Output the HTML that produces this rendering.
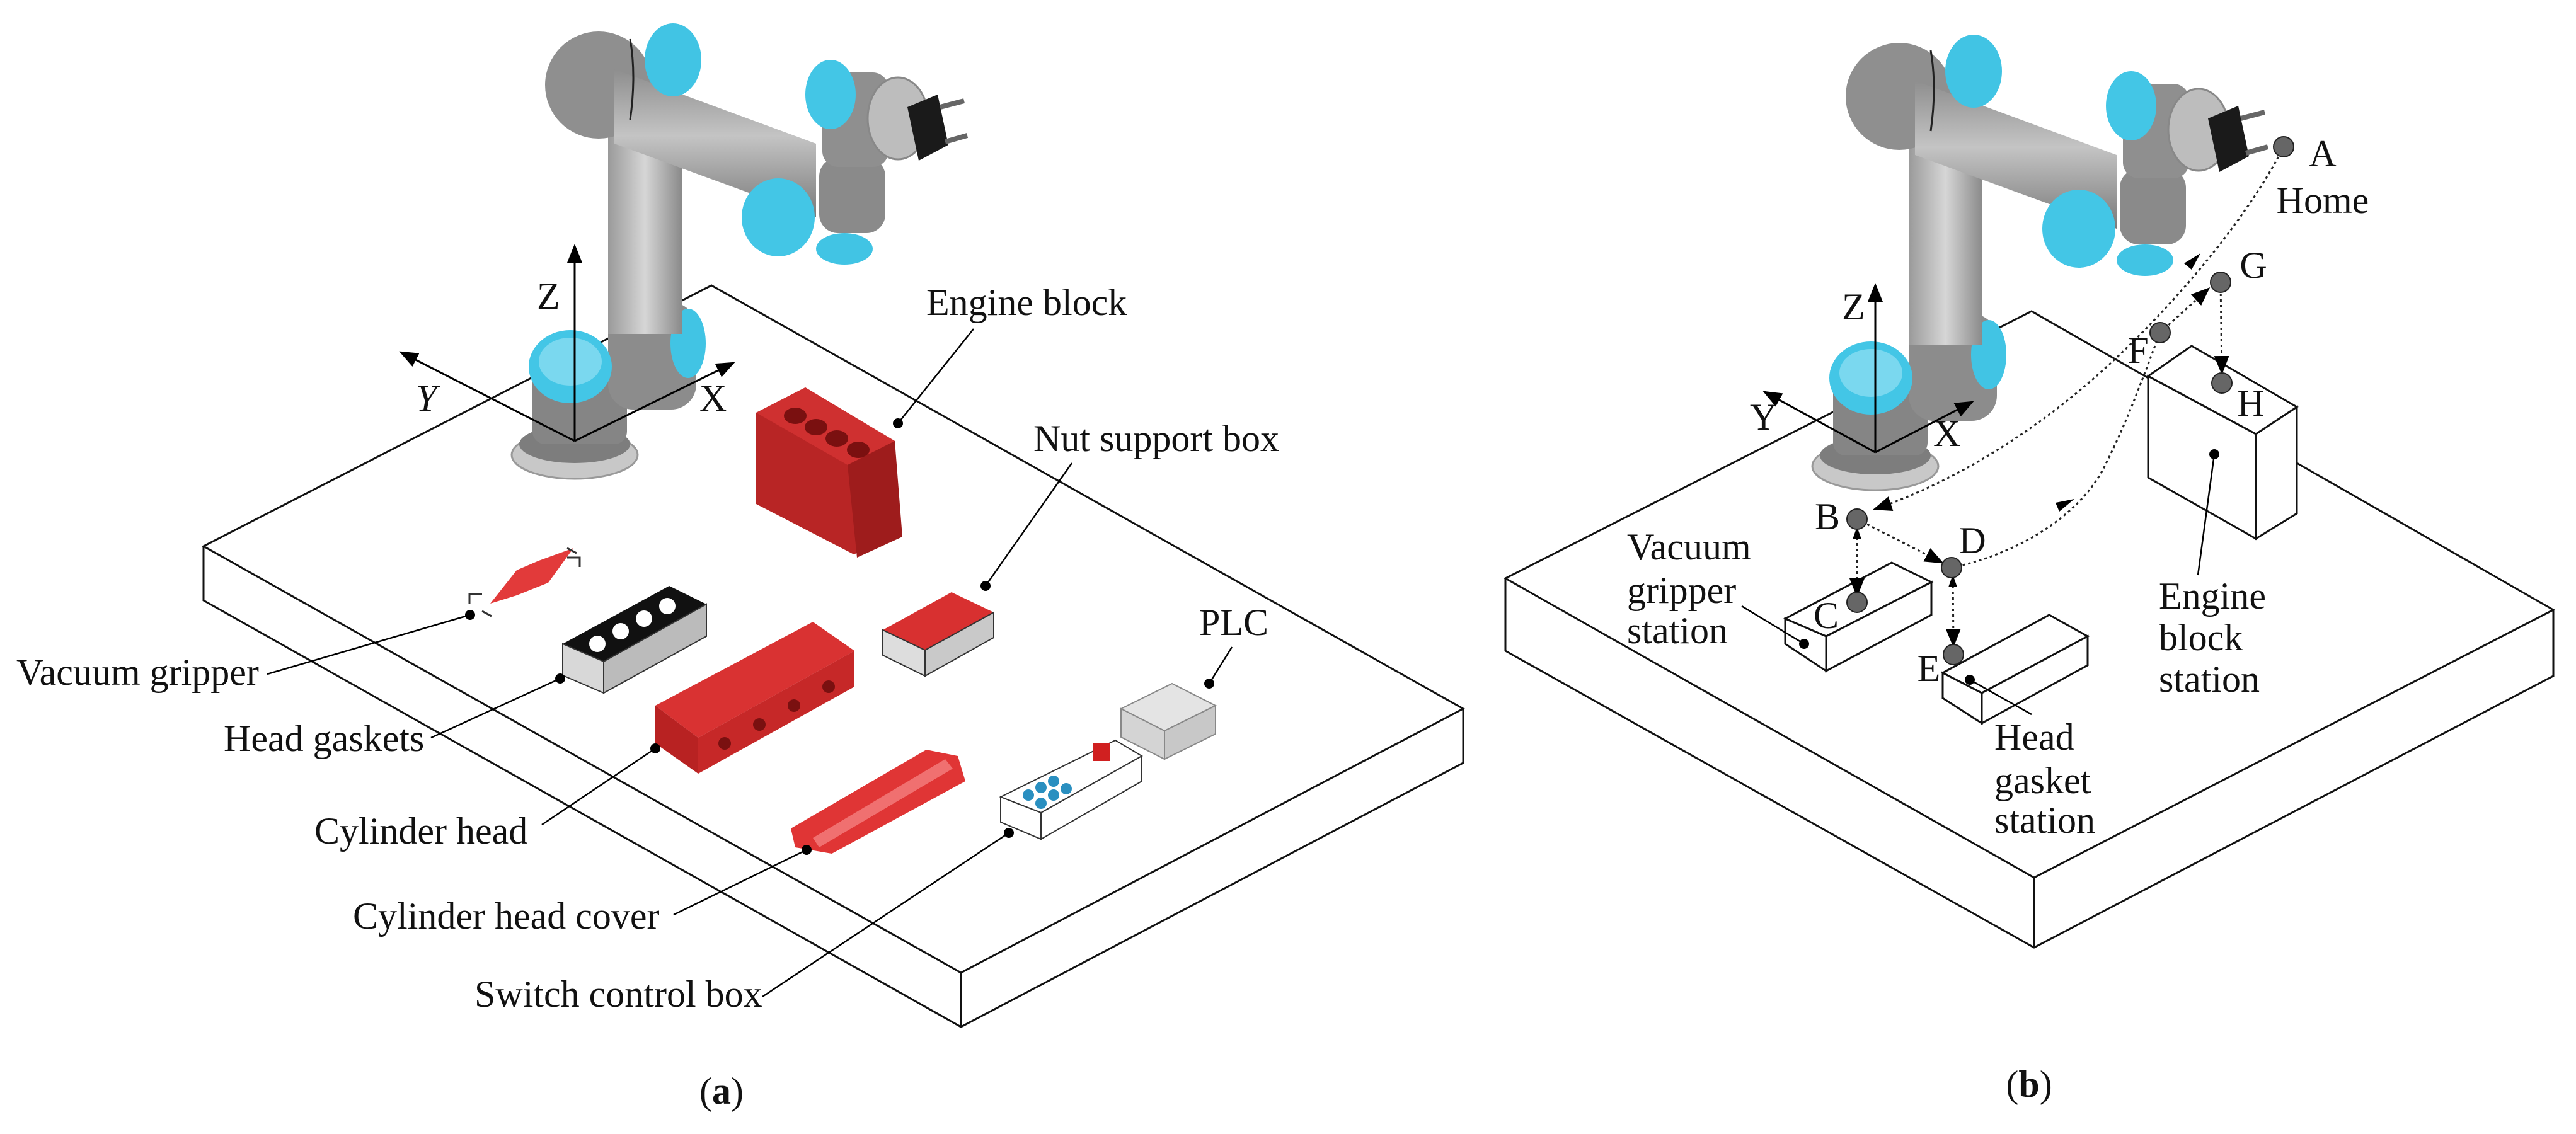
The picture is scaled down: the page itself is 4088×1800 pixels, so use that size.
<!DOCTYPE html>
<html><head><meta charset="utf-8"><style>
html,body{margin:0;padding:0;background:#fff;}
svg{display:block;}
text{font-family:"Liberation Serif",serif;font-size:60px;fill:#111;}
</style></head><body>
<svg width="4088" height="1800" viewBox="0 0 4088 1800" xmlns="http://www.w3.org/2000/svg">
<defs>
<marker id="ah" markerWidth="10" markerHeight="8" refX="9" refY="4" orient="auto" markerUnits="strokeWidth"><path d="M0,0 L10,4 L0,8 z" fill="#000"/></marker>
<linearGradient id="gcol" x1="0" x2="1"><stop offset="0" stop-color="#9a9a9a"/><stop offset="0.5" stop-color="#d6d6d6"/><stop offset="1" stop-color="#8a8a8a"/></linearGradient>
<linearGradient id="garm" x1="0" y1="0" x2="0" y2="1"><stop offset="0" stop-color="#8e8e8e"/><stop offset="0.45" stop-color="#c4c4c4"/><stop offset="1" stop-color="#7a7a7a"/></linearGradient>
<g id="robot">
  <ellipse cx="912" cy="722" rx="100" ry="38" fill="#c8c8c8" stroke="#999" stroke-width="3"/>
  <ellipse cx="912" cy="705" rx="88" ry="30" fill="#7d7d7d"/>
  <rect x="845" y="570" width="150" height="135" rx="20" fill="#858585"/>
  <rect x="965" y="480" width="140" height="170" rx="40" fill="#8c8c8c"/>
  <ellipse cx="1092" cy="545" rx="28" ry="55" fill="#41c4e4"/>
  <ellipse cx="905" cy="582" rx="66" ry="58" fill="#43c6e6"/>
  <ellipse cx="905" cy="574" rx="50" ry="38" fill="#7ad8ef"/>
  <rect x="965" y="195" width="117" height="335" fill="url(#gcol)"/>
  <circle cx="950" cy="135" r="85" fill="#8f8f8f"/>
  <polygon points="975,110 1295,228 1295,345 975,228" fill="url(#garm)"/>
  <ellipse cx="1068" cy="95" rx="45" ry="58" fill="#41c4e4"/>
  <path d="M1000,62 Q1010,120 1000,190" stroke="#222" stroke-width="3" fill="none"/>
  <rect x="1300" y="250" width="105" height="120" rx="30" fill="#8a8a8a"/>
  <ellipse cx="1235" cy="345" rx="58" ry="62" fill="#43c6e6"/>
  <ellipse cx="1340" cy="395" rx="45" ry="25" fill="#41c4e4"/>
  <rect x="1305" y="115" width="105" height="150" rx="25" fill="#8f8f8f"/>
  <ellipse cx="1318" cy="150" rx="40" ry="55" fill="#43c6e6"/>
  <ellipse cx="1425" cy="188" rx="48" ry="65" fill="#bdbdbd" stroke="#888" stroke-width="3"/>
  <polygon points="1440,170 1488,150 1505,230 1458,255" fill="#1a1a1a"/>
  <line x1="1492" y1="170" x2="1530" y2="160" stroke="#666" stroke-width="8"/>
  <line x1="1500" y1="225" x2="1535" y2="215" stroke="#666" stroke-width="8"/>
</g>
</defs>

<!-- LEFT TABLE -->
<g fill="none" stroke="#111" stroke-width="3">
<polygon points="323,867 1129,453 2322,1125 1525,1544" fill="#fff"/>
<polyline points="323,867 323,953 1525,1630 2322,1211 2322,1125"/>
<line x1="1525" y1="1544" x2="1525" y2="1630"/>
</g>
<use href="#robot"/>
<g stroke="#000" stroke-width="3">
<line x1="912" y1="700" x2="912" y2="390" marker-end="url(#ah)"/>
<line x1="912" y1="700" x2="636" y2="559" marker-end="url(#ah)"/>
<line x1="912" y1="700" x2="1164" y2="576" marker-end="url(#ah)"/>
</g>
<text x="852" y="490">Z</text>
<text x="660" y="652" font-style="italic">Y</text>
<text x="1110" y="652">X</text>

<g>
<!-- engine block -->
<polygon points="1200,655 1278,615 1420,700 1420,850 1355,880 1200,800" fill="#b82525"/>
<polygon points="1200,655 1278,615 1420,700 1345,738" fill="#cf3030"/>
<g fill="#7a1010"><ellipse cx="1262" cy="660" rx="18" ry="13"/><ellipse cx="1295" cy="678" rx="18" ry="13"/><ellipse cx="1328" cy="696" rx="18" ry="13"/><ellipse cx="1362" cy="714" rx="18" ry="13"/></g>
<polygon points="1345,738 1420,700 1432,852 1360,885" fill="#9e1c1c"/>
<!-- vacuum gripper -->
<polygon points="778,958 820,905 855,890 910,870 870,925 820,945" fill="#e23a3a"/>
<path d="M745,958 l0,-15 l20,0 M900,885 l20,0 l0,15 M780,978 l-15,-8 M900,870 l15,8" stroke="#333" stroke-width="3" fill="none"/>
<!-- head gaskets -->
<polygon points="893,1022 1062,930 1121,959 958,1050" fill="#111"/>
<polygon points="893,1022 958,1050 958,1100 893,1072" fill="#d8d8d8" stroke="#333" stroke-width="2"/>
<polygon points="958,1050 1121,959 1121,1010 958,1100" fill="#bbb" stroke="#333" stroke-width="2"/>
<g fill="#fff"><circle cx="948" cy="1022" r="13"/><circle cx="985" cy="1002" r="13"/><circle cx="1022" cy="982" r="13"/><circle cx="1059" cy="962" r="13"/></g>
<!-- cylinder head -->
<polygon points="1040,1120 1290,987 1356,1033 1108,1171" fill="#d93232"/>
<polygon points="1040,1120 1108,1171 1108,1228 1040,1180" fill="#b82222"/>
<polygon points="1108,1171 1356,1033 1356,1090 1108,1228" fill="#c62828"/>
<g fill="#7a1010"><circle cx="1150" cy="1180" r="10"/><circle cx="1205" cy="1150" r="10"/><circle cx="1260" cy="1120" r="10"/><circle cx="1315" cy="1090" r="10"/></g>
<!-- nut support box -->
<polygon points="1401,1000 1510,940 1577,972 1468,1032" fill="#d83030"/>
<polygon points="1401,1000 1468,1032 1468,1073 1401,1040" fill="#ddd" stroke="#333" stroke-width="2"/>
<polygon points="1468,1032 1577,972 1577,1012 1468,1073" fill="#c9c9c9" stroke="#333" stroke-width="2"/>
<!-- PLC -->
<polygon points="1779,1125 1860,1085 1929,1120 1848,1160" fill="#e4e4e4" stroke="#888" stroke-width="2"/>
<polygon points="1779,1125 1848,1160 1848,1205 1779,1170" fill="#d4d4d4" stroke="#888" stroke-width="2"/>
<polygon points="1848,1160 1929,1120 1929,1165 1848,1205" fill="#c8c8c8" stroke="#888" stroke-width="2"/>
<!-- cylinder head cover -->
<polygon points="1255,1315 1470,1190 1520,1200 1532,1240 1320,1355 1262,1345" fill="#e03535"/>
<polygon points="1290,1330 1500,1205 1512,1220 1300,1345" fill="#f07070"/>
<!-- switch control box -->
<polygon points="1588,1265 1770,1175 1812,1200 1652,1290" fill="#fff" stroke="#333" stroke-width="2"/>
<polygon points="1588,1265 1652,1290 1652,1332 1588,1305" fill="#fff" stroke="#333" stroke-width="2"/>
<polygon points="1652,1290 1812,1200 1812,1240 1652,1332" fill="#fff" stroke="#333" stroke-width="2"/>
<g fill="#2a8fc0"><circle cx="1632" cy="1262" r="9"/><circle cx="1652" cy="1250" r="9"/><circle cx="1672" cy="1240" r="9"/><circle cx="1652" cy="1275" r="9"/><circle cx="1672" cy="1262" r="9"/><circle cx="1692" cy="1252" r="9"/></g>
<rect x="1735" y="1180" width="26" height="28" fill="#d02020"/>
</g>

<g stroke="#000" stroke-width="2.5" fill="none">
<line x1="1545" y1="522" x2="1425" y2="672"/>
<line x1="1701" y1="735" x2="1564" y2="930"/>
<line x1="1955" y1="1027" x2="1919" y2="1085"/>
<line x1="424" y1="1070" x2="746" y2="976"/>
<line x1="684" y1="1171" x2="889" y2="1077"/>
<line x1="860" y1="1309" x2="1040" y2="1188"/>
<line x1="1069" y1="1452" x2="1280" y2="1349"/>
<line x1="1210" y1="1582" x2="1601" y2="1322"/>
</g>
<g fill="#000">
<circle cx="1425" cy="672" r="8"/><circle cx="1564" cy="930" r="8"/><circle cx="1919" cy="1085" r="8"/>
<circle cx="746" cy="976" r="8"/><circle cx="889" cy="1077" r="8"/><circle cx="1040" cy="1188" r="8"/>
<circle cx="1280" cy="1349" r="8"/><circle cx="1601" cy="1322" r="8"/>
</g>
<text x="1470" y="500">Engine block</text>
<text x="1640" y="716">Nut support box</text>
<text x="1903" y="1008">PLC</text>
<text x="26" y="1087">Vacuum gripper</text>
<text x="355" y="1192">Head gaskets</text>
<text x="499" y="1339">Cylinder head</text>
<text x="560" y="1474">Cylinder head cover</text>
<text x="753" y="1598">Switch control box</text>
<text x="1145" y="1752" text-anchor="middle">(<tspan font-weight="bold">a</tspan>)</text>

<!-- RIGHT TABLE -->
<g fill="none" stroke="#111" stroke-width="3">
<polygon points="2389,918 3224,494 4052,968 3228,1393" fill="#fff"/>
<polyline points="2389,918 2389,1033 3228,1504 4052,1073 4052,968"/>
<line x1="3228" y1="1393" x2="3228" y2="1504"/>
</g>
<use href="#robot" transform="translate(2064,18)"/>
<g stroke="#000" stroke-width="3">
<line x1="2976" y1="718" x2="2976" y2="452" marker-end="url(#ah)"/>
<line x1="2976" y1="718" x2="2800" y2="622" marker-end="url(#ah)"/>
<line x1="2976" y1="718" x2="3130" y2="638" marker-end="url(#ah)"/>
</g>
<text x="2923" y="507">Z</text>
<text x="2777" y="682">Y</text>
<text x="3068" y="708">X</text>

<g stroke="#111" stroke-width="3" fill="#fff">
<polygon points="2833,982 3002,893 3065,924 2898,1010"/>
<polygon points="2833,982 2898,1010 2898,1065 2833,1022"/>
<polygon points="2898,1010 3065,924 3065,976 2898,1065"/>
<polygon points="3083,1068 3252,976 3313,1010 3145,1100"/>
<polygon points="3083,1068 3145,1100 3145,1148 3083,1108"/>
<polygon points="3145,1100 3313,1010 3313,1056 3145,1148"/>
<polygon points="3409,597 3478,549 3645,646 3580,689"/>
<polygon points="3409,597 3580,689 3580,855 3409,758"/>
<polygon points="3580,689 3645,646 3645,815 3580,855"/>
</g>

<g stroke="#222" stroke-width="3" fill="none" stroke-dasharray="4,5">
<path d="M3624,233 C3560,360 3420,520 3300,620 C3180,720 3060,780 2975,808" marker-end="url(#ah)"/>
<path d="M3097,901 C3200,880 3300,820 3340,740 C3380,660 3400,600 3428,528"/>
<line x1="2947" y1="824" x2="3082" y2="893" marker-end="url(#ah)"/>
<line x1="3428" y1="528" x2="3505" y2="458" marker-end="url(#ah)"/>
<line x1="3524" y1="448" x2="3526" y2="592" marker-end="url(#ah)"/>
<line x1="2947" y1="835" x2="2947" y2="945" marker-end="url(#ah)"/>
<line x1="3099" y1="912" x2="3100" y2="1025" marker-end="url(#ah)"/>
</g>
<g fill="#000">
<polygon points="3478,428 3492,402 3466,418"/>
<polygon points="3268,812 3292,792 3262,798"/>
<polygon points="2947,836 2940,856 2954,856"/>
<polygon points="3099,912 3092,932 3106,932"/>
</g>
<g fill="#666" stroke="#222" stroke-width="2">
<circle cx="3624" cy="233" r="16"/><circle cx="3524" cy="448" r="16"/><circle cx="3428" cy="528" r="16"/>
<circle cx="3526" cy="608" r="16"/><circle cx="2947" cy="824" r="16"/><circle cx="3097" cy="901" r="16"/>
<circle cx="2947" cy="956" r="16"/><circle cx="3100" cy="1039" r="16"/>
</g>
<text x="3686" y="264" text-anchor="middle">A</text>
<text x="3686" y="338" text-anchor="middle">Home</text>
<text x="3576" y="441" text-anchor="middle">G</text>
<text x="3393" y="576" text-anchor="middle">F</text>
<text x="3572" y="660" text-anchor="middle">H</text>
<text x="2900" y="840" text-anchor="middle">B</text>
<text x="3130" y="878" text-anchor="middle">D</text>
<text x="2898" y="997" text-anchor="middle">C</text>
<text x="3061" y="1081" text-anchor="middle">E</text>

<g stroke="#000" stroke-width="2.5">
<line x1="2764" y1="962" x2="2863" y2="1022"/>
<line x1="3224" y1="1134" x2="3126" y2="1079"/>
<line x1="3488" y1="913" x2="3514" y2="721"/>
</g>
<g fill="#000"><circle cx="2863" cy="1022" r="8"/><circle cx="3126" cy="1079" r="8"/><circle cx="3514" cy="721" r="8"/></g>
<text x="2582" y="888">Vacuum</text>
<text x="2582" y="957">gripper</text>
<text x="2582" y="1021">station</text>
<text x="3165" y="1190">Head</text>
<text x="3165" y="1259">gasket</text>
<text x="3165" y="1322">station</text>
<text x="3426" y="966">Engine</text>
<text x="3426" y="1032">block</text>
<text x="3426" y="1098">station</text>
<text x="3220" y="1741" text-anchor="middle">(<tspan font-weight="bold">b</tspan>)</text>
</svg>
</body></html>
